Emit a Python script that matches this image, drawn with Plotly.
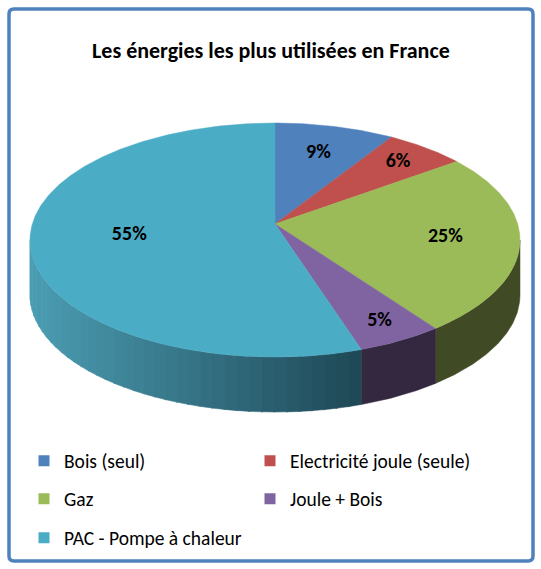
import numpy as np
import plotly.graph_objects as go

# données du graphique
labels = ["Bois (seul)", "Electricité joule (seule)", "Gaz", "Joule + Bois",
          "PAC - Pompe à chaleur"]
shares = [9, 6, 25, 5, 55]
colors = ["#4f81bd", "#c0504d", "#9bbb59", "#8064a2", "#4bacc6"]
side_colors = ["#2c4a70", "#6e2c2a", "#404a24", "#33283f", None]
legend_rows = ["legend", "legend", "legend2", "legend2", "legend3"]
label_r = [0.7, 0.8, 0.7, 0.85, 0.6]
title = "Les énergies les plus utilisées en France"

# géométrie du camembert 3D (pixels)
W, H = 541, 569
CX, CY = 275, 224
RX, RY, K = 242.7, 114.8, 0.137
DEPTH = 55
FONT = "Calibri, Carlito, Lato, sans-serif"

PAC_LIGHT = np.array([76, 158, 180])
PAC_DARK = np.array([31, 72, 86])


def proj(theta, r=1.0, drop=0.0):
    t = np.radians(theta)
    u = r * np.sin(t)
    v = r * np.cos(t)
    d = 1 + K * v
    return CX + RX * u / d, CY - RY * v / d + drop


def side_poly(a1, a2):
    th = np.linspace(a1, a2, max(int(a2 - a1) * 2, 2))
    xt, yt = proj(th)
    xb, yb = proj(th[::-1], drop=DEPTH)
    return np.r_[xt, xb, xt[0]], np.r_[yt, yb, yt[0]]


fig = go.Figure()

bounds = np.r_[0, np.cumsum(shares)] * 3.6
sil = np.degrees(np.arccos(-K))  # bord visible du cylindre
vis_lo, vis_hi = sil, 360 - sil

# faces latérales
for i, (a1, a2) in enumerate(zip(bounds[:-1], bounds[1:])):
    lo, hi = max(a1, vis_lo), min(a2, vis_hi)
    if hi <= lo:
        continue
    if side_colors[i] is not None:
        xs, ys = side_poly(lo, hi)
        fig.add_trace(go.Scatter(
            x=xs, y=ys, fill="toself", mode="lines",
            fillcolor=side_colors[i],
            line=dict(color=side_colors[i], width=0.5),
            hoverinfo="skip", showlegend=False,
        ))
    else:
        # dégradé sur le côté de la PAC
        steps = np.linspace(lo, hi, 40)
        for s1, s2 in zip(steps[:-1], steps[1:]):
            xm, _ = proj((s1 + s2) / 2)
            f = np.clip((xm - 30) / (360 - 30), 0, 1)
            rgb = (PAC_LIGHT * (1 - f) + PAC_DARK * f).astype(int)
            c = "rgb(%d,%d,%d)" % tuple(rgb)
            xs, ys = side_poly(s1, s2 + 0.3)
            fig.add_trace(go.Scatter(
                x=xs, y=ys, fill="toself", mode="lines",
                fillcolor=c, line=dict(color=c, width=0.5),
                hoverinfo="skip", showlegend=False,
            ))

# faces supérieures
for i, (a1, a2) in enumerate(zip(bounds[:-1], bounds[1:])):
    th = np.linspace(a1, a2, max(int(a2 - a1) * 2, 2))
    xa, ya = proj(th)
    fig.add_trace(go.Scatter(
        x=np.r_[CX, xa, CX], y=np.r_[CY, ya, CY],
        fill="toself", mode="lines", fillcolor=colors[i],
        line=dict(color=colors[i], width=0.5),
        hoverinfo="skip", showlegend=False,
    ))

# étiquettes de pourcentage
mids = (bounds[:-1] + bounds[1:]) / 2
lx, ly = [], []
for m, r in zip(mids, label_r):
    x, y = proj(m, r)
    lx.append(x)
    ly.append(y)
fig.add_trace(go.Scatter(
    x=lx, y=ly, mode="text",
    text=["%d%%" % s for s in shares],
    textfont=dict(family=FONT, size=20, color="black", weight="bold"),
    hoverinfo="skip", showlegend=False,
))

# entrées de légende
for i, name in enumerate(labels):
    fig.add_trace(go.Scatter(
        x=[None], y=[None], mode="markers", name=name,
        marker=dict(symbol="square", size=11, color=colors[i]),
        legend=legend_rows[i],
    ))

leg = dict(orientation="h", x=24 / W, xanchor="left", yanchor="middle",
           entrywidth=181, entrywidthmode="pixels",
           font=dict(family=FONT, size=19.5, color="black"),
           bgcolor="rgba(0,0,0,0)", traceorder="normal")

fig.update_layout(
    width=W, height=H, autosize=False,
    margin=dict(l=0, r=0, t=0, b=0),
    paper_bgcolor="white", plot_bgcolor="white",
    xaxis=dict(range=[0, W], visible=False, fixedrange=True),
    yaxis=dict(range=[H, 0], visible=False, fixedrange=True),
    legend=dict(leg, y=1 - 461 / H),
    legend2=dict(leg, y=1 - 499 / H),
    legend3=dict(leg, y=1 - 538 / H, entrywidth=300),
    annotations=[dict(
        x=W / 2, y=50, xref="x", yref="y", text="<b>%s</b>" % title,
        showarrow=False, font=dict(family=FONT, size=22, color="black"),
    )],
    shapes=[dict(
        type="path", xref="x", yref="y",
        path="M 14,9 L 528,9 Q 533,9 533,14 L 533,556 Q 533,561 528,561 "
             "L 14,561 Q 9,561 9,556 L 9,14 Q 9,9 14,9 Z",
        line=dict(color="#4f81bd", width=3.5),
    )],
)

fig.write_html("out.html", config={"displayModeBar": False},
               post_script="document.body.style.margin='0';")
